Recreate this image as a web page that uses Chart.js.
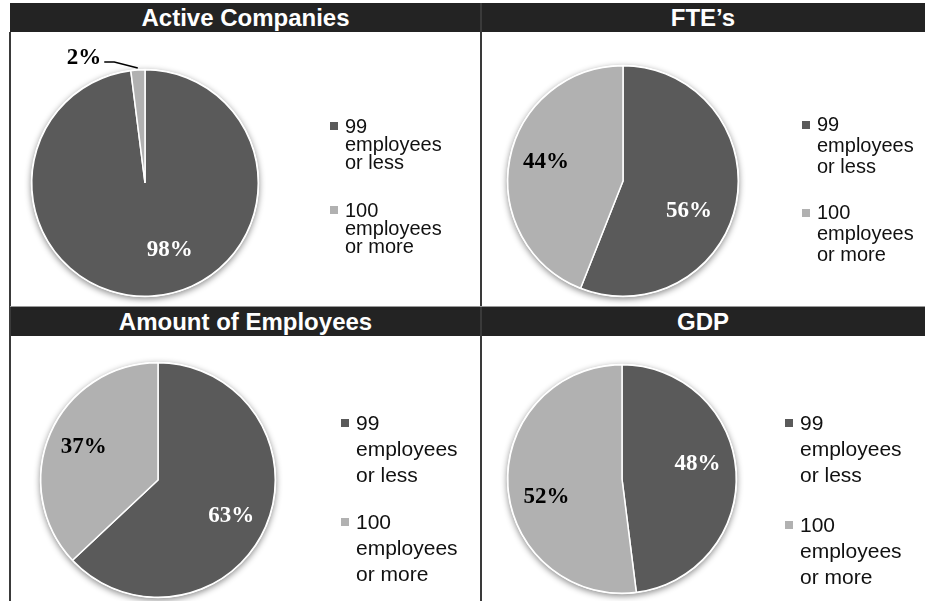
<!DOCTYPE html>
<html>
<head>
<meta charset="utf-8">
<script src="https://cdn.jsdelivr.net/npm/chart.js@4.4.0/dist/chart.umd.min.js"></script>
<style>
body { margin: 0; background: #fff; }
#wrap { position: relative; width: 925px; height: 601px; overflow: hidden; font-family: "Liberation Sans", Arial, sans-serif; }
.head { position: absolute; height: 29px; background: #232323; color: #fff; font-weight: bold; font-size: 24px; line-height: 30px; text-align: center; }
.vline { position: absolute; background: #3a3a3a; }
canvas { position: absolute; }
.item { position: absolute; width: 120px; color: #111; padding-left: 15px; }
.sw { position: absolute; left: 0; width: 8px; height: 8px; }
</style>
</head>
<body>
<div id="wrap"></div>
<script>
// shares of small vs large companies, in percent
const panelTitles = ['Active Companies', 'FTE’s', 'Amount of Employees', 'GDP'];
const sizeClasses = ['99 employees or less', '100 employees or more'];
const activeCompanies = [98, 2];
const fteShare = [56, 44];
const employeeShare = [63, 37];
const gdpShare = [48, 52];

const sliceColors = ['#5a5a5a', '#b1b1b1'];
const labelColors = ['#fff', '#000'];

// box = panel [left, top, width, height]; pie = [cx, cy, r] inside the box
// legend = [x, top of item 1, top of item 2, line height, font size]
const panels = [
    { title: panelTitles[0], values: activeCompanies, box: [10, 32, 471, 274], pie: [135, 151, 113],
      legend: [330, 117, 201, 18, 20], shifts: [[20, -10], [0, 0]], outside: { 1: [-61, -125] } },
    { title: panelTitles[1], values: fteShare, box: [481, 32, 444, 274], pie: [142, 149, 115],
      legend: [802, 114, 202, 21, 20], shifts: [[-11, 15], [0, -4]] },
    { title: panelTitles[2], values: employeeShare, box: [10, 336, 471, 265], pie: [148, 144, 117],
      legend: [341, 410, 509, 26, 21], shifts: [[0, 4], [-1, -1]] },
    { title: panelTitles[3], values: gdpShare, box: [481, 336, 444, 265], pie: [141, 143, 114],
      legend: [785, 410, 512, 26, 21], shifts: [[-2, -10], [2, 13]] }
];

const wrap = document.getElementById('wrap');

function addDiv(cls, css, text) {
    const d = document.createElement('div');
    d.className = cls;
    Object.assign(d.style, css);
    if (text) d.textContent = text;
    wrap.appendChild(d);
    return d;
}

// soft shadow under the whole pie
const pieShadow = {
    id: 'pieShadow',
    beforeDatasetsDraw(chart) {
        const p = chart.getDatasetMeta(0).data[0].getProps(['x', 'y', 'outerRadius'], true);
        const ctx = chart.ctx;
        ctx.save();
        ctx.shadowColor = 'rgba(0,0,0,0.45)';
        ctx.shadowBlur = 6;
        ctx.shadowOffsetY = 2;
        ctx.fillStyle = '#fff';
        ctx.beginPath();
        ctx.arc(p.x, p.y, p.outerRadius + 1, 0, Math.PI * 2);
        ctx.fill();
        ctx.restore();
    }
};

// percentage labels on the slices (or outside with a leader line)
const pctLabels = {
    id: 'pctLabels',
    afterDatasetsDraw(chart, args, opts) {
        const ctx = chart.ctx;
        const values = chart.data.datasets[0].data;
        ctx.save();
        ctx.font = 'bold 23px "Liberation Serif", serif';
        ctx.textAlign = 'center';
        ctx.textBaseline = 'middle';
        chart.getDatasetMeta(0).data.forEach((arc, i) => {
            const p = arc.getProps(['x', 'y', 'startAngle', 'endAngle', 'outerRadius'], true);
            const mid = (p.startAngle + p.endAngle) / 2;
            const text = values[i] + '%';
            const out = opts.outside && opts.outside[i];
            if (out) {
                const tx = p.x + out[0], ty = p.y + out[1];
                const w = ctx.measureText(text).width;
                const ex = p.x + Math.cos(mid) * (p.outerRadius + 2);
                const ey = p.y + Math.sin(mid) * (p.outerRadius + 2);
                ctx.strokeStyle = '#000';
                ctx.lineWidth = 1.5;
                ctx.beginPath();
                ctx.moveTo(tx + w / 2 + 3, ty + 4);
                ctx.lineTo(tx + w / 2 + 13, ty + 4);
                ctx.lineTo(ex, ey);
                ctx.stroke();
                ctx.fillStyle = '#000';
                ctx.fillText(text, tx, ty);
            } else {
                const s = opts.shifts[i];
                const d = p.outerRadius * 0.68;
                ctx.fillStyle = labelColors[i];
                ctx.fillText(text, p.x + Math.cos(mid) * d + s[0], p.y + Math.sin(mid) * d + s[1]);
            }
        });
        ctx.restore();
    }
};

panels.forEach((pn, k) => {
    const [bx, by, bw, bh] = pn.box;
    const [cx, cy, r] = pn.pie;
    const R = r + 1;

    // header bar
    addDiv('head', { left: bx + 'px', top: (by - 29) + 'px', width: bw + 'px' }, pn.title);

    const cv = document.createElement('canvas');
    cv.width = bw;
    cv.height = bh;
    cv.style.left = bx + 'px';
    cv.style.top = by + 'px';
    wrap.appendChild(cv);

    new Chart(cv.getContext('2d'), {
        type: 'pie',
        data: {
            labels: sizeClasses,
            datasets: [{
                data: pn.values,
                backgroundColor: sliceColors,
                borderColor: '#fff',
                borderWidth: 1.5,
                hoverOffset: 0
            }]
        },
        options: {
            responsive: false,
            animation: false,
            events: [],
            layout: {
                padding: { left: cx - R, top: cy - R, right: bw - cx - R, bottom: bh - cy - R }
            },
            plugins: {
                legend: { display: false },
                tooltip: { enabled: false },
                pctLabels: { shifts: pn.shifts, outside: pn.outside }
            }
        },
        plugins: [pieShadow, pctLabels]
    });

    // legend
    const [lx, t1, t2, lh, fs] = pn.legend;
    [t1, t2].forEach((top, i) => {
        const it = addDiv('item', { left: lx + 'px', top: top + 'px', lineHeight: lh + 'px', fontSize: fs + 'px' }, sizeClasses[i]);
        const sw = document.createElement('div');
        sw.className = 'sw';
        sw.style.background = sliceColors[i];
        sw.style.top = (lh / 2 - 4) + 'px';
        it.appendChild(sw);
    });
});

// panel borders
addDiv('vline', { left: '9px', top: '32px', width: '2px', height: '569px' });
addDiv('vline', { left: '480px', top: '3px', width: '2px', height: '598px' });
addDiv('vline', { left: '10px', top: '306px', width: '915px', height: '1px', background: '#999' });
</script>
</body>
</html>
